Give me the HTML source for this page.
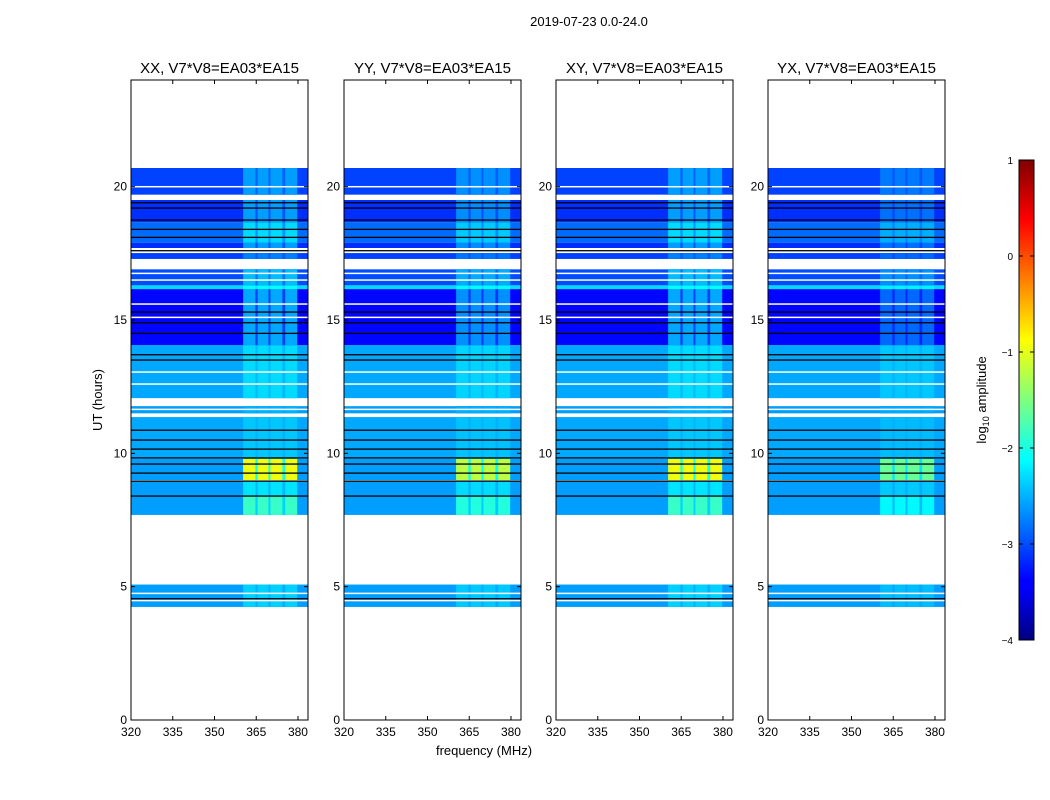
<!DOCTYPE html>
<html><head><meta charset="utf-8">
<style>
html,body{margin:0;padding:0;background:#fff;}
svg{display:block;font-family:"Liberation Sans",sans-serif;}
</style></head>
<body>
<svg id="fig" width="1050" height="800" viewBox="0 0 1050 800" xmlns="http://www.w3.org/2000/svg">
<text x="589" y="26" font-size="13" text-anchor="middle">2019-07-23 0.0-24.0</text>
<text transform="translate(102,400) rotate(-90)" font-size="13" text-anchor="middle">UT (hours)</text>
<text x="484" y="755" font-size="13" text-anchor="middle">frequency (MHz)</text>
<defs>
<linearGradient id="jet" x1="0" y1="1" x2="0" y2="0">
<stop offset="0" stop-color="#00007f"/><stop offset="0.11" stop-color="#0000ff"/><stop offset="0.125" stop-color="#0000ff"/>
<stop offset="0.375" stop-color="#00ffff"/><stop offset="0.5" stop-color="#7fff7f"/><stop offset="0.625" stop-color="#ffff00"/>
<stop offset="0.875" stop-color="#ff0000"/><stop offset="1" stop-color="#7f0000"/>
</linearGradient>
</defs>
<g id="panels"></g>
<g id="cbar">
<rect x="1019" y="160" width="15" height="480" fill="url(#jet)" stroke="#000" stroke-width="1"/>
</g>
<text transform="translate(986,400) rotate(-90)" font-size="13" text-anchor="middle">log<tspan font-size="9" dy="3">10</tspan><tspan dy="-3"> amplitude</tspan></text>
</svg>
<script>
// ---- data ----
const panelTitles = ["XX, V7*V8=EA03*EA15","YY, V7*V8=EA03*EA15","XY, V7*V8=EA03*EA15","YX, V7*V8=EA03*EA15"];
const panelColScale = [1.0, 0.85, 1.0, 0.6];
const xTicks = [320,335,350,365,380];
const yTicks = [0,5,10,15,20];
const cbarTicks = [1,0,-1,-2,-3,-4];
// time segments: start hour, end hour
const segStart = [4.24, 7.69, 8.40, 9.00, 9.80, 11.50, 12.07, 14.06, 16.16, 16.30, 17.29, 17.70, 17.90, 18.67, 19.70];
const segEnd   = [5.08, 8.40, 8.96, 9.80, 11.36, 11.77, 14.06, 16.16, 16.30, 16.90, 17.51, 17.90, 18.67, 19.50, 20.70];
const segBase  = [-2.6, -2.6, -2.6, -2.6, -2.55, -2.6, -2.55, -3.35, -2.3, -3.0, -3.05, -3.15, -2.85, -3.15, -3.05];
const segBoost = [0.25, 0.75, 0.35, 1.65, 0.15, 0.1, 0.25, 0.8, 0.2, 0.55, 0.3, 0.55, 0.55, 0.55, 0.45];
// bright frequency channels (MHz)
const chanStart = [360.3, 365.5, 370.1, 375.4];
const chanEnd   = [364.7, 369.4, 374.4, 379.7];
// thin horizontal lines (hours)
const whiteLines = [4.48, 4.75, 7.52, 11.65, 12.6, 13.05, 15.1, 15.6, 16.5, 16.75, 19.6, 20.0];
const blackLines = [4.55, 8.4, 8.96, 9.26, 9.6, 9.83, 10.16, 10.5, 10.87, 13.5, 13.7, 14.5, 14.9, 15.3, 17.6, 18.1, 18.4, 18.75, 19.2, 19.4];

// ---- helpers ----
const NS="http://www.w3.org/2000/svg";
const panelX=[131,344,556,768], panelW=177, yTop=80, yBot=720;
const fMin=320, fMax=383.6, hMin=0, hMax=24;
function jet(v){const t=Math.max(0,Math.min(1,(v+4)/5));
 const c=x=>Math.round(255*Math.max(0,Math.min(1,x)));
 return `rgb(${c(1.5-Math.abs(4*t-3))},${c(1.5-Math.abs(4*t-2))},${c(1.5-Math.abs(4*t-1))})`;}
function mk(tag,attrs,parent){const e=document.createElementNS(NS,tag);for(const k in attrs)e.setAttribute(k,attrs[k]);parent.appendChild(e);return e;}
const yS=h=>yBot-(h-hMin)/(hMax-hMin)*(yBot-yTop);

const root=document.getElementById("panels");
panelTitles.forEach((title,p)=>{
 const x0=panelX[p];
 const xS=f=>x0+(f-fMin)/(fMax-fMin)*panelW;
 const g=mk("g",{},root);
 
 
 const sc=panelColScale[p];
 segStart.forEach((s,i)=>{
  const y1=yS(segEnd[i]), y2=yS(s);
  const r=mk("rect",{x:x0,y:y1,width:panelW,height:y2-y1,fill:jet(segBase[i])},g);
  
  
  const r2=mk("rect",{x:xS(chanStart[0]),y:y1,width:xS(chanEnd[3])-xS(chanStart[0]),height:y2-y1,fill:jet(segBase[i]+segBoost[i]*sc*0.35)},g);
  
  
  chanStart.forEach((c,j)=>{
   const r3=mk("rect",{x:xS(c),y:y1,width:xS(chanEnd[j])-xS(c),height:y2-y1,fill:jet(segBase[i]+segBoost[i]*sc)},g);
   
   
  });
 });
 whiteLines.forEach(h=>{const l=mk("rect",{x:x0,y:yS(h)-0.7,width:panelW,height:1.5,fill:"#fff"},g);
  
  });
 blackLines.forEach(h=>{const l=mk("rect",{x:x0,y:yS(h)-0.6,width:panelW,height:1.3,fill:"#000"},g);
  
  });
 const fr=mk("rect",{x:x0,y:yTop,width:panelW,height:yBot-yTop,fill:"none",stroke:"#000","stroke-width":1},g);
 
 
 const t=mk("text",{x:x0+panelW/2,y:73,"font-size":15,"text-anchor":"middle"},g);t.textContent=title;
 
 
 xTicks.forEach(f=>{const x=xS(f);
  mk("line",{x1:x,x2:x,y1:yBot,y2:yBot-4,stroke:"#000"},g);mk("line",{x1:x,x2:x,y1:yTop,y2:yTop+4,stroke:"#000"},g);
  const tl=mk("text",{x:x,y:yBot+16,"font-size":12,"text-anchor":"middle"},g);tl.textContent=f;
  
  });
 yTicks.forEach(h=>{const y=yS(h);
  mk("line",{x1:x0,x2:x0+4,y1:y,y2:y,stroke:"#000"},g);mk("line",{x1:x0+panelW,x2:x0+panelW-4,y1:y,y2:y,stroke:"#000"},g);
  const tl=mk("text",{x:x0-4,y:y+4,"font-size":12,"text-anchor":"end"},g);tl.textContent=h;
  
  });
});
const cb=document.getElementById("cbar");
cbarTicks.forEach(v=>{const y=640-(v+4)/5*480;
 mk("line",{x1:1034,x2:1030,y1:y,y2:y,stroke:"#000"},cb);mk("line",{x1:1019,x2:1023,y1:y,y2:y,stroke:"#000"},cb);
 const tl=mk("text",{x:1013,y:y+4,"font-size":10,"text-anchor":"end"},cb);tl.textContent=v<0?"\u2212"+(-v):v;
 
 });
</script>
</body></html>
